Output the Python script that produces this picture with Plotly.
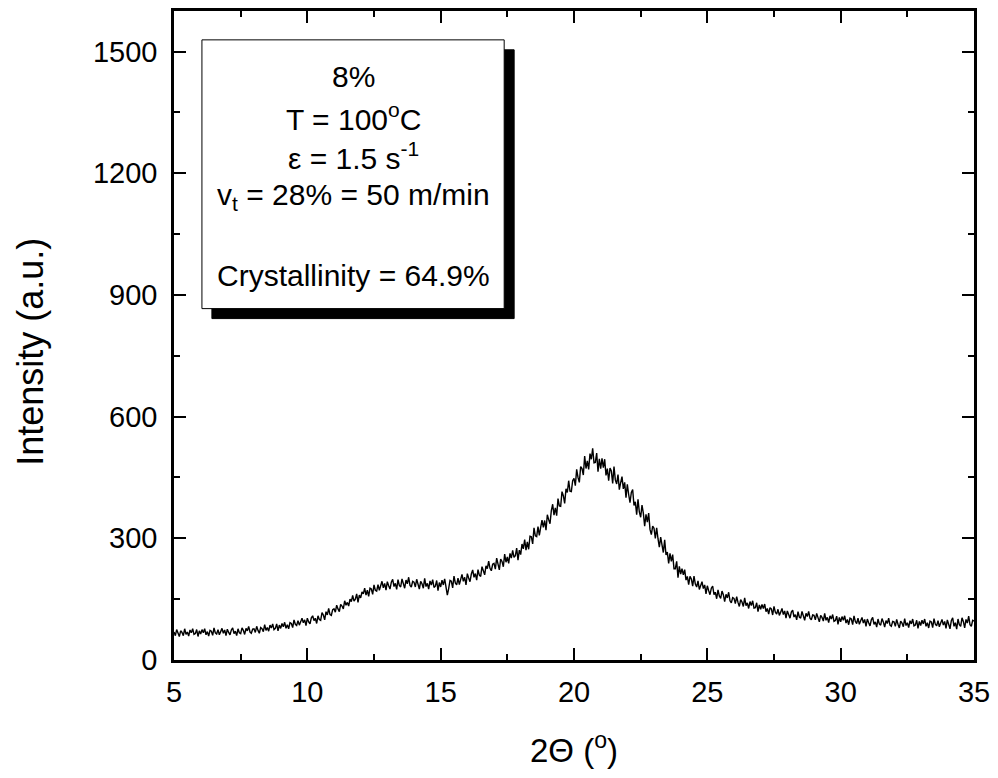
import plotly.graph_objects as go

# 2-theta grid (degrees), step 0.05 from 5 to 35; one row = one degree
two_theta_start = 5.0
two_theta_step = 0.05

intensity = [
    69, 60, 75, 65, 58, 72, 68, 60, 77, 63, 69, 59, 74, 67, 77, 63, 65, 75, 58, 72,      # 5
    64, 75, 67, 77, 62, 70, 59, 73, 71, 61, 79, 67, 64, 75, 62, 70, 78, 66, 74, 60,      # 6
    76, 68, 62, 74, 79, 65, 71, 60, 77, 67, 65, 79, 73, 63, 78, 72, 83, 69, 66, 76,      # 7
    77, 68, 83, 73, 66, 80, 77, 70, 87, 73, 80, 71, 86, 79, 89, 75, 78, 89, 72, 86,      # 8
    78, 90, 82, 93, 78, 87, 77, 92, 90, 80, 99, 88, 85, 97, 86, 94, 103, 92, 99, 85,     # 9
    103, 94, 89, 104, 109, 97, 103, 90, 109, 100, 98, 117, 111, 99, 119, 111, 127, 112, 110, 124,  # 10
    126, 118, 135, 126, 119, 137, 133, 126, 146, 135, 142, 133, 150, 144, 159, 145, 150, 163, 142, 160,  # 11
    153, 168, 163, 177, 160, 172, 157, 177, 175, 162, 185, 172, 170, 186, 172, 183, 194, 178, 189, 172,  # 12
    193, 183, 175, 192, 199, 181, 189, 174, 198, 184, 180, 200, 191, 177, 197, 188, 204, 184, 180, 194,  # 13
    192, 180, 199, 185, 175, 194, 188, 177, 201, 181, 189, 175, 195, 185, 198, 179, 182, 196, 171, 191,  # 14
    180, 197, 185, 200, 177, 160, 176, 196, 194, 178, 207, 190, 185, 202, 186, 199, 211, 194, 204, 185,  # 15
    213, 202, 193, 212, 222, 204, 213, 197, 223, 209, 206, 230, 222, 210, 232, 225, 244, 226, 220, 236,  # 16
    238, 224, 251, 236, 222, 249, 243, 230, 261, 241, 254, 238, 263, 251, 270, 253, 257, 276, 246, 271,  # 17
    260, 286, 274, 297, 271, 291, 273, 305, 304, 286, 326, 306, 304, 329, 307, 327, 345, 327, 344, 320,  # 18
    358, 346, 336, 368, 384, 357, 375, 356, 398, 380, 379, 415, 405, 386, 422, 413, 442, 416, 415, 442,  # 19
    448, 430, 470, 450, 438, 477, 472, 456, 503, 472, 491, 470, 509, 495, 522, 486, 487, 510, 464, 496,  # 20
    472, 497, 474, 495, 455, 472, 442, 473, 466, 435, 477, 444, 434, 457, 420, 437, 452, 422, 438, 400,  # 21
    433, 408, 388, 413, 420, 381, 390, 358, 396, 365, 352, 382, 362, 330, 359, 340, 362, 322, 309, 330,  # 22
    325, 300, 326, 299, 278, 303, 288, 265, 296, 259, 266, 238, 263, 243, 260, 225, 225, 243, 203, 231,  # 23
    212, 225, 210, 223, 197, 206, 186, 206, 200, 182, 207, 187, 180, 195, 174, 184, 193, 176, 185, 163,  # 24
    183, 171, 161, 177, 182, 161, 167, 151, 173, 158, 152, 170, 161, 144, 162, 153, 167, 146, 141, 154,  # 25
    152, 139, 156, 142, 132, 149, 143, 132, 153, 134, 141, 127, 144, 134, 146, 128, 129, 141, 119, 136,  # 26
    125, 137, 127, 138, 119, 127, 113, 129, 126, 111, 132, 118, 113, 125, 110, 118, 127, 112, 121, 103,  # 27
    121, 112, 103, 118, 123, 106, 112, 99, 119, 106, 103, 120, 111, 98, 115, 107, 120, 103, 99, 111,     # 28
    110, 99, 115, 103, 94, 110, 105, 96, 115, 98, 105, 92, 109, 101, 112, 95, 97, 108, 88, 105,          # 29
    94, 107, 98, 109, 91, 100, 87, 103, 101, 87, 109, 95, 90, 103, 88, 97, 105, 91, 100, 83,            # 30
    101, 92, 84, 99, 105, 88, 94, 81, 101, 89, 86, 102, 94, 81, 97, 90, 103, 86, 83, 95,                # 31
    94, 83, 100, 88, 79, 96, 91, 82, 102, 85, 92, 80, 97, 89, 101, 84, 86, 98, 78, 95,                  # 32
    85, 98, 89, 101, 83, 92, 79, 96, 94, 80, 102, 88, 84, 97, 82, 91, 100, 86, 95, 78,                  # 33
    99, 88, 77, 97, 104, 83, 92, 76, 101, 87, 83, 104, 95, 79, 100, 91, 108, 87, 83, 98,                # 34
    96,
]
two_theta = [round(two_theta_start + i * two_theta_step, 3) for i in range(len(intensity))]

x_ticks = [5, 10, 15, 20, 25, 30, 35]
y_ticks = [0, 300, 600, 900, 1200, 1500]

box_lines = [
    "8%",
    "T = 100<sup>o</sup>C",
    "\u03b5 = 1.5 s<sup>-1</sup>",
    "v<sub>t</sub> = 28% = 50 m/min",
    "Crystallinity = 64.9%",
]

FONT = "Arial, 'Liberation Sans', sans-serif"

fig = go.Figure()
fig.add_trace(go.Scatter(x=two_theta, y=intensity, mode="lines",
                         line=dict(color="black", width=1.4), showlegend=False))

W, H = 998, 778
L, R, T, B = 174, 976, 8, 660

def px(xp):
    return (xp - L) / (R - L)

def py(yp):
    return (B - yp) / (B - T)

axis_common = dict(
    showgrid=False, zeroline=False, showline=True, linecolor="black", linewidth=2.5,
    mirror="ticks", ticks="inside", ticklen=12, tickwidth=2, tickcolor="black",
    tickfont=dict(family=FONT, size=29, color="black"),
)

fig.update_layout(
    width=W, height=H,
    margin=dict(l=L, r=W - R, t=T, b=H - B),
    paper_bgcolor="white", plot_bgcolor="white",
    font=dict(family=FONT, color="black"),
    xaxis=dict(range=[5, 35], tickvals=x_ticks, ticktext=[str(v) for v in x_ticks],
               minor=dict(dtick=2.5, tick0=5, ticks="inside", ticklen=6, tickwidth=2, tickcolor="black"),
               ticklabelstandoff=4, **axis_common),
    yaxis=dict(range=[0, 1600], tickvals=y_ticks, ticktext=[str(v) for v in y_ticks],
               minor=dict(dtick=150, tick0=0, ticks="inside", ticklen=6, tickwidth=2, tickcolor="black"),
               ticklabelstandoff=8, **axis_common),
)

# shadow and box
fig.add_shape(type="rect", xref="paper", yref="paper",
              x0=px(212), x1=px(515), y0=py(317), y1=py(47),
              fillcolor="black", line=dict(color="black", width=1), layer="above")
fig.add_shape(type="rect", xref="paper", yref="paper",
              x0=px(202), x1=px(505), y0=py(307), y1=py(37),
              fillcolor="white", line=dict(color="black", width=1), layer="above")

line_y = [74, 114, 154, 194, 274]
for txt, yy in zip(box_lines, line_y):
    fig.add_annotation(text=txt, xref="paper", yref="paper", x=px(354), y=py(yy),
                       xanchor="center", yanchor="middle", showarrow=False,
                       font=dict(family=FONT, size=30, color="black"))

fig.add_annotation(text="2\u0398 (<sup>o</sup>)", xref="paper", yref="paper",
                   x=px(575), y=py(748), xanchor="center", yanchor="middle",
                   showarrow=False, font=dict(family=FONT, size=33, color="black"))
fig.add_annotation(text="Intensity (a.u.)", xref="paper", yref="paper",
                   x=px(30), y=py(350), xanchor="center", yanchor="middle", textangle=-90,
                   showarrow=False, font=dict(family=FONT, size=36, color="black"))

fig.write_html("out.html")
